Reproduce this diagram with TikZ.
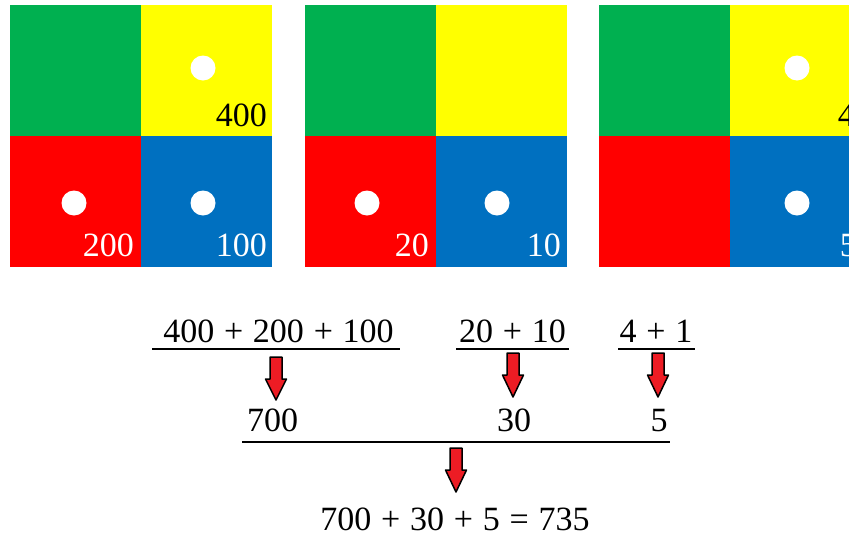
\documentclass[tikz,border=0pt]{standalone}
\usepackage{fontspec}
\setmainfont{Liberation Serif}[WordSpace=1.15]
\definecolor{cgreen}{HTML}{00B050}
\definecolor{cyellow}{HTML}{FFFF00}
\definecolor{cred}{HTML}{FF0000}
\definecolor{cblue}{HTML}{0070C0}
\definecolor{arrred}{HTML}{ED1C24}
\tikzset{
  dot/.style={fill=white, draw=none},
  lbl/.style={anchor=base east, inner sep=0pt, font=\fontsize{34}{34}\selectfont},
  eq/.style={anchor=base, inner sep=0pt, font=\fontsize{34}{34}\selectfont},
  uline/.style={line width=2pt},
  blockarrow/.style={fill=arrred, draw=black, line width=1.5pt, line join=round}
}
\newcommand{\blockarr}[3]{% cx, top, tip
  \draw[blockarrow] (#1-6,#2) -- (#1+6,#2) -- (#1+6,#2+22) -- (#1+10.5,#2+22)
    -- (#1,#3) -- (#1-10.5,#2+22) -- (#1-6,#2+22) -- cycle;}
\begin{document}
\begin{tikzpicture}[x=1pt,y=-1pt]
\useasboundingbox (0,0) rectangle (849,536);
\clip (0,0) rectangle (849,536);
% grid 1
\fill[cgreen] (10,5) rectangle (141,136);
\fill[cyellow] (141,5) rectangle (272,136);
\fill[cred] (10,136) rectangle (141,267);
\fill[cblue] (141,136) rectangle (272,267);
\fill[dot] (203,68) circle (12.5);
\fill[dot] (74,203) circle (12.5);
\fill[dot] (203,203) circle (12.5);
\node[lbl] (g1a) at (267,126) {400};
\node[lbl, text=white] (g1b) at (134,256) {200};
\node[lbl, text=white] (g1c) at (267,256) {100};
% grid 2
\fill[cgreen] (305,5) rectangle (436,136);
\fill[cyellow] (436,5) rectangle (567,136);
\fill[cred] (305,136) rectangle (436,267);
\fill[cblue] (436,136) rectangle (567,267);
\fill[dot] (367,203) circle (12.5);
\fill[dot] (497,203) circle (12.5);
\node[lbl, text=white] (g2b) at (429,256) {20};
\node[lbl, text=white] (g2c) at (561,256) {10};
% grid 3
\fill[cgreen] (599,5) rectangle (730,136);
\fill[cyellow] (730,5) rectangle (861,136);
\fill[cred] (599,136) rectangle (730,267);
\fill[cblue] (730,136) rectangle (861,267);
\fill[dot] (797,68) circle (12.5);
\fill[dot] (797,203) circle (12.5);
\node[lbl] (g3a) at (855,126) {4};
\node[lbl, text=white] (g3c) at (857,256) {5};
% sums
\node[eq] (s1) at (278.5,342) {400 + 200 + 100};
\node[eq] (s2) at (512.5,342) {20 + 10};
\node[eq] (s3) at (656,342) {4 + 1};
\draw[uline] (152,349) -- (400,349);
\draw[uline] (456,349) -- (569,349);
\draw[uline] (618,349) -- (695,349);
\blockarr{276}{357}{400}
\blockarr{513}{353}{397}
\blockarr{658}{353}{397}
\node[eq, anchor=base west] (r1) at (247,431) {700};
\node[eq] (r2) at (514,431) {30};
\node[eq] (r3) at (659,431) {5};
\draw[uline] (242,442) -- (670,442);
\blockarr{456}{448}{492}
\node[eq] (tot) at (455,530) {700 + 30 + 5 = 735};
\end{tikzpicture}
\end{document}
